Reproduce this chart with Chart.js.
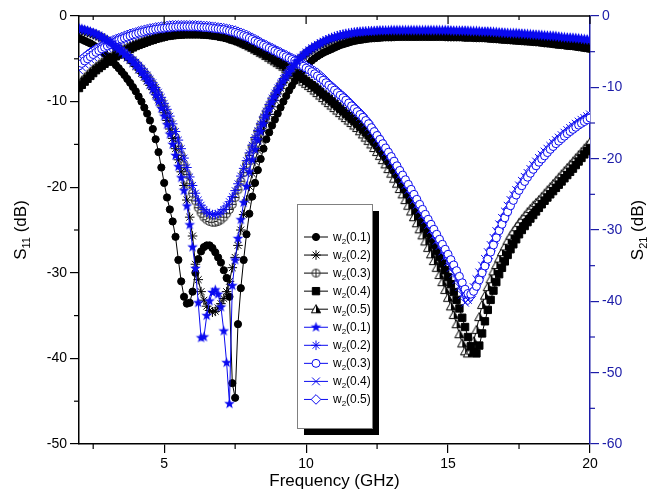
<!DOCTYPE html>
<html><head><meta charset="utf-8">
<script src="https://cdn.jsdelivr.net/npm/chart.js@4/dist/chart.umd.min.js"></script>
<style>html,body{margin:0;padding:0;background:#fff;overflow:hidden}canvas{display:block}</style>
</head><body>
<canvas id="c" width="651" height="496"></canvas>
<script>
// ---------- DATA ----------
// frequency (GHz), 2.0 ... 20.0 in 0.1 GHz steps (one row of 10 per GHz)
const freq = [
 2.0,2.1,2.2,2.3,2.4,2.5,2.6,2.7,2.8,2.9,
 3.0,3.1,3.2,3.3,3.4,3.5,3.6,3.7,3.8,3.9,
 4.0,4.1,4.2,4.3,4.4,4.5,4.6,4.7,4.8,4.9,
 5.0,5.1,5.2,5.3,5.4,5.5,5.6,5.7,5.8,5.9,
 6.0,6.1,6.2,6.3,6.4,6.5,6.6,6.7,6.8,6.9,
 7.0,7.1,7.2,7.3,7.4,7.5,7.6,7.7,7.8,7.9,
 8.0,8.1,8.2,8.3,8.4,8.5,8.6,8.7,8.8,8.9,
 9.0,9.1,9.2,9.3,9.4,9.5,9.6,9.7,9.8,9.9,
 10.0,10.1,10.2,10.3,10.4,10.5,10.6,10.7,10.8,10.9,
 11.0,11.1,11.2,11.3,11.4,11.5,11.6,11.7,11.8,11.9,
 12.0,12.1,12.2,12.3,12.4,12.5,12.6,12.7,12.8,12.9,
 13.0,13.1,13.2,13.3,13.4,13.5,13.6,13.7,13.8,13.9,
 14.0,14.1,14.2,14.3,14.4,14.5,14.6,14.7,14.8,14.9,
 15.0,15.1,15.2,15.3,15.4,15.5,15.6,15.7,15.8,15.9,
 16.0,16.1,16.2,16.3,16.4,16.5,16.6,16.7,16.8,16.9,
 17.0,17.1,17.2,17.3,17.4,17.5,17.6,17.7,17.8,17.9,
 18.0,18.1,18.2,18.3,18.4,18.5,18.6,18.7,18.8,18.9,
 19.0,19.1,19.2,19.3,19.4,19.5,19.6,19.7,19.8,19.9,
 20.0];

// S11 (left axis, dB)
const s11Black01 = [
 -2.6,-2.75,-2.9,-3.05,-3.2,-3.4,-3.6,-3.85,-4.1,-4.4,
 -4.7,-5.05,-5.4,-5.75,-6.1,-6.5,-6.9,-7.35,-7.8,-8.3,
 -8.8,-9.4,-10.0,-10.7,-11.4,-12.2,-13.2,-14.4,-15.9,-17.7,
 -19.5,-21.2,-22.6,-24.0,-25.8,-28.5,-31.0,-32.8,-33.6,-33.5,
 -32.2,-30.0,-28.4,-27.5,-27.0,-26.8,-26.8,-27.1,-27.6,-28.2,
 -28.8,-29.7,-30.6,-32.8,-42.9,-44.6,-36.0,-31.8,-28.5,-25.5,
 -23.1,-21.1,-19.5,-18.0,-16.7,-15.5,-14.4,-13.6,-12.8,-12.1,
 -11.4,-10.7,-10.0,-9.35,-8.7,-8.15,-7.6,-7.15,-6.7,-6.3,
 -5.9,-5.55,-5.2,-4.95,-4.7,-4.5,-4.3,-4.15,-4.0,-3.85,
 -3.7,-3.55,-3.4,-3.3,-3.2,-3.1,-3.0,-2.92,-2.85,-2.8,
 -2.75,-2.7,-2.65,-2.62,-2.6,-2.58,-2.55,-2.52,-2.5,-2.5,
 -2.5,-2.48,-2.45,-2.45,-2.45,-2.45,-2.45,-2.45,-2.45,-2.45,
 -2.45,-2.45,-2.45,-2.45,-2.45,-2.45,-2.45,-2.45,-2.45,-2.48,
 -2.5,-2.5,-2.5,-2.5,-2.5,-2.52,-2.55,-2.55,-2.55,-2.58,
 -2.6,-2.6,-2.6,-2.62,-2.65,-2.68,-2.7,-2.72,-2.75,-2.78,
 -2.8,-2.82,-2.85,-2.88,-2.9,-2.92,-2.95,-2.98,-3.0,-3.02,
 -3.05,-3.08,-3.1,-3.15,-3.2,-3.22,-3.25,-3.3,-3.35,-3.38,
 -3.4,-3.45,-3.5,-3.52,-3.55,-3.6,-3.65,-3.7,-3.75,-3.8,
 -3.85];
const s11Black02 = [
 -1.7,-1.78,-1.85,-1.95,-2.05,-2.18,-2.3,-2.45,-2.6,-2.8,
 -3.0,-3.25,-3.5,-3.75,-4.0,-4.3,-4.6,-4.9,-5.2,-5.55,
 -5.9,-6.3,-6.7,-7.15,-7.6,-8.1,-8.6,-9.2,-9.8,-10.5,
 -11.3,-12.2,-13.2,-14.3,-15.5,-16.8,-18.2,-19.8,-21.5,-23.5,
 -25.7,-29.0,-30.8,-32.2,-33.2,-33.9,-34.4,-34.6,-34.5,-34.1,
 -33.6,-33.0,-32.2,-31.0,-29.4,-28.2,-26.8,-25.0,-23.2,-21.5,
 -19.9,-18.4,-17.0,-15.7,-14.5,-13.4,-12.4,-11.5,-10.6,-9.85,
 -9.1,-8.45,-7.8,-7.25,-6.7,-6.25,-5.8,-5.4,-5.0,-4.7,
 -4.4,-4.15,-3.9,-3.7,-3.5,-3.35,-3.2,-3.05,-2.9,-2.8,
 -2.7,-2.6,-2.5,-2.45,-2.4,-2.35,-2.3,-2.25,-2.2,-2.18,
 -2.15,-2.12,-2.1,-2.1,-2.1,-2.08,-2.05,-2.05,-2.05,-2.05,
 -2.05,-2.05,-2.05,-2.05,-2.05,-2.05,-2.05,-2.05,-2.05,-2.05,
 -2.05,-2.05,-2.05,-2.05,-2.05,-2.05,-2.05,-2.05,-2.05,-2.08,
 -2.1,-2.1,-2.1,-2.1,-2.1,-2.12,-2.15,-2.15,-2.15,-2.18,
 -2.2,-2.2,-2.2,-2.22,-2.25,-2.28,-2.3,-2.32,-2.35,-2.35,
 -2.35,-2.38,-2.4,-2.42,-2.45,-2.48,-2.5,-2.52,-2.55,-2.58,
 -2.6,-2.62,-2.65,-2.68,-2.7,-2.72,-2.75,-2.8,-2.85,-2.88,
 -2.9,-2.92,-2.95,-3.0,-3.05,-3.1,-3.15,-3.2,-3.25,-3.3,
 -3.35];
const s11Black03 = [
 -1.6,-1.68,-1.75,-1.85,-1.95,-2.08,-2.2,-2.35,-2.5,-2.7,
 -2.9,-3.1,-3.3,-3.55,-3.8,-4.05,-4.3,-4.6,-4.9,-5.2,
 -5.5,-5.85,-6.2,-6.6,-7.0,-7.5,-8.0,-8.6,-9.2,-9.9,
 -10.6,-11.4,-12.3,-13.2,-14.2,-15.2,-16.3,-17.4,-18.5,-19.6,
 -20.7,-21.6,-22.4,-23.0,-23.5,-23.8,-24.0,-24.1,-24.1,-24.0,
 -23.8,-23.5,-23.1,-22.6,-22.0,-21.2,-20.3,-19.3,-18.3,-17.3,
 -16.3,-15.3,-14.4,-13.5,-12.7,-11.9,-11.2,-10.5,-9.8,-9.2,
 -8.6,-8.05,-7.5,-7.0,-6.5,-6.1,-5.7,-5.35,-5.0,-4.7,
 -4.4,-4.15,-3.9,-3.7,-3.5,-3.35,-3.2,-3.05,-2.9,-2.8,
 -2.7,-2.6,-2.5,-2.42,-2.35,-2.3,-2.25,-2.2,-2.15,-2.12,
 -2.1,-2.08,-2.05,-2.02,-2.0,-2.0,-2.0,-2.0,-2.0,-1.98,
 -1.95,-1.95,-1.95,-1.95,-1.95,-1.95,-1.95,-1.95,-1.95,-1.95,
 -1.95,-1.95,-1.95,-1.95,-1.95,-1.95,-1.95,-1.95,-1.95,-1.98,
 -2.0,-2.0,-2.0,-2.0,-2.0,-2.02,-2.05,-2.05,-2.05,-2.08,
 -2.1,-2.1,-2.1,-2.12,-2.15,-2.18,-2.2,-2.22,-2.25,-2.25,
 -2.25,-2.28,-2.3,-2.32,-2.35,-2.38,-2.4,-2.42,-2.45,-2.48,
 -2.5,-2.52,-2.55,-2.58,-2.6,-2.62,-2.65,-2.7,-2.75,-2.78,
 -2.8,-2.82,-2.85,-2.9,-2.95,-3.0,-3.05,-3.1,-3.15,-3.2,
 -3.25];
const s11Blue01 = [
 -1.4,-1.5,-1.6,-1.7,-1.8,-1.95,-2.1,-2.3,-2.5,-2.7,
 -2.9,-3.15,-3.4,-3.65,-3.9,-4.2,-4.5,-4.8,-5.1,-5.45,
 -5.8,-6.2,-6.6,-7.05,-7.5,-8.0,-8.6,-9.3,-10.0,-10.8,
 -11.7,-12.7,-13.8,-15.0,-16.3,-17.6,-18.9,-20.4,-22.2,-24.4,
 -27.0,-29.5,-33.5,-37.6,-37.5,-35.0,-33.3,-32.3,-32.0,-32.5,
 -34.0,-36.8,-40.5,-45.3,-31.5,-28.5,-26.0,-23.8,-21.8,-19.9,
 -18.2,-16.8,-15.6,-14.5,-13.5,-12.6,-11.7,-10.9,-10.1,-9.45,
 -8.8,-8.2,-7.6,-7.1,-6.6,-6.15,-5.7,-5.3,-4.9,-4.6,
 -4.3,-4.05,-3.8,-3.6,-3.4,-3.2,-3.0,-2.85,-2.7,-2.6,
 -2.5,-2.4,-2.3,-2.22,-2.15,-2.08,-2.0,-1.95,-1.9,-1.88,
 -1.85,-1.82,-1.8,-1.78,-1.75,-1.72,-1.7,-1.7,-1.7,-1.68,
 -1.65,-1.65,-1.65,-1.65,-1.65,-1.65,-1.65,-1.65,-1.65,-1.65,
 -1.65,-1.65,-1.65,-1.65,-1.65,-1.65,-1.65,-1.65,-1.65,-1.65,
 -1.65,-1.68,-1.7,-1.7,-1.7,-1.7,-1.7,-1.72,-1.75,-1.75,
 -1.75,-1.78,-1.8,-1.8,-1.8,-1.82,-1.85,-1.88,-1.9,-1.92,
 -1.95,-1.98,-2.0,-2.0,-2.0,-2.02,-2.05,-2.08,-2.1,-2.12,
 -2.15,-2.18,-2.2,-2.22,-2.25,-2.28,-2.3,-2.32,-2.35,-2.4,
 -2.45,-2.48,-2.5,-2.52,-2.55,-2.58,-2.6,-2.65,-2.7,-2.72,
 -2.75];
const s11Blue02 = [
 -1.5,-1.58,-1.65,-1.75,-1.85,-1.98,-2.1,-2.25,-2.4,-2.6,
 -2.8,-3.0,-3.2,-3.45,-3.7,-3.95,-4.2,-4.5,-4.8,-5.1,
 -5.4,-5.75,-6.1,-6.5,-6.9,-7.35,-7.8,-8.35,-8.9,-9.5,
 -10.2,-10.9,-11.7,-12.6,-13.5,-14.5,-15.5,-16.6,-17.7,-18.8,
 -19.8,-20.7,-21.5,-22.1,-22.6,-22.9,-23.1,-23.2,-23.2,-23.1,
 -22.9,-22.6,-22.2,-21.7,-21.1,-20.4,-19.6,-18.7,-17.8,-16.9,
 -16.0,-15.1,-14.2,-13.4,-12.6,-11.8,-11.1,-10.35,-9.6,-9.0,
 -8.4,-7.85,-7.3,-6.8,-6.3,-5.9,-5.5,-5.15,-4.8,-4.5,
 -4.2,-3.95,-3.7,-3.5,-3.3,-3.12,-2.95,-2.8,-2.65,-2.52,
 -2.4,-2.3,-2.2,-2.12,-2.05,-2.0,-1.95,-1.9,-1.85,-1.82,
 -1.8,-1.78,-1.75,-1.75,-1.75,-1.72,-1.7,-1.7,-1.7,-1.7,
 -1.7,-1.7,-1.7,-1.7,-1.7,-1.7,-1.7,-1.7,-1.7,-1.7,
 -1.7,-1.7,-1.7,-1.7,-1.7,-1.7,-1.7,-1.7,-1.7,-1.7,
 -1.7,-1.72,-1.75,-1.75,-1.75,-1.75,-1.75,-1.78,-1.8,-1.8,
 -1.8,-1.82,-1.85,-1.85,-1.85,-1.88,-1.9,-1.92,-1.95,-1.98,
 -2.0,-2.02,-2.05,-2.05,-2.05,-2.08,-2.1,-2.12,-2.15,-2.18,
 -2.2,-2.22,-2.25,-2.28,-2.3,-2.32,-2.35,-2.38,-2.4,-2.45,
 -2.5,-2.52,-2.55,-2.58,-2.6,-2.62,-2.65,-2.7,-2.75,-2.78,
 -2.8];

// S21 (right axis, dB)
const s21Black04 = [
 -10.1,-9.65,-9.2,-8.8,-8.4,-8.0,-7.6,-7.3,-7.0,-6.7,
 -6.4,-6.15,-5.9,-5.65,-5.4,-5.2,-5.0,-4.8,-4.6,-4.4,
 -4.2,-4.05,-3.9,-3.75,-3.6,-3.45,-3.35,-3.2,-3.1,-3.0,
 -2.9,-2.8,-2.75,-2.7,-2.65,-2.6,-2.6,-2.55,-2.55,-2.55,
 -2.55,-2.55,-2.55,-2.55,-2.6,-2.6,-2.65,-2.7,-2.75,-2.8,
 -2.9,-2.95,-3.05,-3.15,-3.3,-3.4,-3.55,-3.7,-3.85,-4.0,
 -4.2,-4.4,-4.6,-4.8,-5.0,-5.2,-5.45,-5.65,-5.9,-6.15,
 -6.4,-6.65,-6.9,-7.15,-7.4,-7.7,-8.0,-8.25,-8.5,-8.8,
 -9.1,-9.4,-9.7,-10.0,-10.3,-10.65,-11.0,-11.3,-11.6,-11.95,
 -12.3,-12.65,-13.0,-13.35,-13.7,-14.05,-14.4,-14.75,-15.1,-15.5,
 -15.9,-16.3,-16.7,-17.15,-17.6,-18.1,-18.6,-19.15,-19.7,-20.3,
 -20.9,-21.55,-22.2,-22.9,-23.6,-24.3,-25.0,-25.75,-26.5,-27.25,
 -28.0,-28.8,-29.6,-30.4,-31.2,-32.05,-32.9,-33.8,-34.7,-35.65,
 -36.6,-37.6,-38.7,-39.8,-41.0,-42.3,-43.6,-45.0,-46.3,-47.1,
 -47.3,-46.2,-44.5,-42.8,-41.2,-39.8,-38.5,-37.3,-36.2,-35.3,
 -34.4,-33.5,-32.7,-32.0,-31.3,-30.6,-30.0,-29.45,-28.9,-28.4,
 -27.9,-27.4,-26.9,-26.4,-25.9,-25.45,-25.0,-24.55,-24.1,-23.65,
 -23.2,-22.75,-22.3,-21.85,-21.4,-20.9,-20.4,-19.9,-19.4,-18.95,
 -18.5];
const s21Black05 = [
 -9.5,-9.05,-8.6,-8.2,-7.8,-7.45,-7.1,-6.8,-6.5,-6.25,
 -6.0,-5.75,-5.5,-5.25,-5.0,-4.8,-4.6,-4.4,-4.2,-4.05,
 -3.9,-3.75,-3.6,-3.45,-3.3,-3.2,-3.1,-3.0,-2.9,-2.8,
 -2.7,-2.65,-2.6,-2.55,-2.5,-2.45,-2.45,-2.4,-2.4,-2.4,
 -2.4,-2.4,-2.4,-2.4,-2.45,-2.45,-2.5,-2.55,-2.6,-2.65,
 -2.75,-2.85,-2.95,-3.05,-3.2,-3.35,-3.5,-3.65,-3.85,-4.05,
 -4.25,-4.45,-4.7,-4.9,-5.15,-5.35,-5.6,-5.85,-6.1,-6.35,
 -6.6,-6.85,-7.1,-7.4,-7.7,-8.0,-8.3,-8.6,-8.9,-9.2,
 -9.5,-9.8,-10.1,-10.45,-10.8,-11.15,-11.5,-11.85,-12.2,-12.55,
 -12.9,-13.25,-13.6,-13.95,-14.3,-14.65,-15.0,-15.35,-15.7,-16.15,
 -16.6,-17.05,-17.5,-18.0,-18.5,-19.05,-19.6,-20.2,-20.8,-21.45,
 -22.1,-22.8,-23.5,-24.25,-25.0,-25.8,-26.6,-27.4,-28.2,-29.05,
 -29.9,-30.75,-31.6,-32.5,-33.4,-34.35,-35.3,-36.3,-37.3,-38.4,
 -39.5,-40.7,-41.9,-43.2,-44.6,-45.9,-47.0,-47.3,-46.9,-45.6,
 -44.0,-42.2,-40.5,-39.2,-38.0,-36.9,-35.8,-34.9,-34.0,-33.1,
 -32.3,-31.5,-30.8,-30.2,-29.6,-29.0,-28.5,-28.0,-27.5,-27.05,
 -26.6,-26.2,-25.8,-25.35,-24.9,-24.45,-24.0,-23.55,-23.1,-22.65,
 -22.2,-21.75,-21.3,-20.85,-20.4,-19.95,-19.5,-19.05,-18.6,-18.15,
 -17.7];
const s21Blue03 = [
 -7.0,-6.65,-6.3,-6.0,-5.7,-5.4,-5.1,-4.85,-4.6,-4.4,
 -4.2,-4.0,-3.8,-3.6,-3.4,-3.25,-3.1,-2.95,-2.8,-2.65,
 -2.55,-2.4,-2.3,-2.2,-2.1,-2.0,-1.95,-1.85,-1.8,-1.75,
 -1.7,-1.65,-1.6,-1.55,-1.55,-1.5,-1.5,-1.5,-1.5,-1.5,
 -1.5,-1.5,-1.55,-1.55,-1.6,-1.6,-1.65,-1.7,-1.75,-1.8,
 -1.85,-1.9,-2.0,-2.1,-2.2,-2.3,-2.45,-2.6,-2.75,-2.9,
 -3.1,-3.3,-3.5,-3.7,-3.9,-4.1,-4.3,-4.5,-4.7,-4.9,
 -5.1,-5.3,-5.5,-5.7,-5.9,-6.1,-6.3,-6.55,-6.8,-7.05,
 -7.3,-7.55,-7.8,-8.1,-8.4,-8.7,-9.0,-9.35,-9.7,-10.05,
 -10.4,-10.75,-11.1,-11.45,-11.8,-12.2,-12.6,-13.0,-13.4,-13.8,
 -14.2,-14.65,-15.1,-15.65,-16.2,-16.75,-17.3,-17.9,-18.5,-19.1,
 -19.7,-20.35,-21.0,-21.65,-22.3,-22.95,-23.6,-24.3,-25.0,-25.7,
 -26.4,-27.1,-27.8,-28.5,-29.2,-29.9,-30.6,-31.3,-32.0,-32.7,
 -33.4,-34.15,-34.9,-35.7,-36.5,-37.4,-38.3,-38.9,-39.0,-38.6,
 -37.9,-37.0,-36.0,-35.05,-34.1,-33.1,-32.1,-31.1,-30.1,-29.2,
 -28.3,-27.45,-26.6,-25.85,-25.1,-24.45,-23.8,-23.2,-22.6,-22.05,
 -21.5,-21.0,-20.5,-20.05,-19.6,-19.15,-18.7,-18.3,-17.9,-17.55,
 -17.2,-16.85,-16.5,-16.2,-15.9,-15.6,-15.3,-15.05,-14.8,-14.55,
 -14.3];
const s21Blue04 = [
 -7.6,-7.2,-6.8,-6.45,-6.1,-5.8,-5.5,-5.25,-5.0,-4.75,
 -4.5,-4.3,-4.1,-3.9,-3.7,-3.5,-3.3,-3.15,-3.0,-2.85,
 -2.7,-2.55,-2.45,-2.35,-2.25,-2.15,-2.05,-1.95,-1.9,-1.85,
 -1.8,-1.75,-1.7,-1.65,-1.65,-1.6,-1.6,-1.6,-1.6,-1.6,
 -1.6,-1.6,-1.6,-1.6,-1.65,-1.65,-1.7,-1.75,-1.8,-1.85,
 -1.9,-1.95,-2.05,-2.15,-2.25,-2.35,-2.5,-2.65,-2.8,-2.95,
 -3.15,-3.35,-3.55,-3.75,-3.95,-4.15,-4.35,-4.55,-4.75,-4.95,
 -5.15,-5.35,-5.55,-5.75,-5.95,-6.15,-6.4,-6.65,-6.9,-7.15,
 -7.4,-7.65,-7.9,-8.2,-8.5,-8.85,-9.2,-9.55,-9.9,-10.25,
 -10.6,-10.95,-11.3,-11.7,-12.1,-12.5,-12.9,-13.3,-13.7,-14.15,
 -14.6,-15.1,-15.6,-16.15,-16.7,-17.3,-17.9,-18.5,-19.1,-19.75,
 -20.4,-21.05,-21.7,-22.35,-23.0,-23.7,-24.4,-25.1,-25.8,-26.5,
 -27.2,-27.9,-28.6,-29.3,-30.0,-30.75,-31.5,-32.25,-33.0,-33.75,
 -34.5,-35.3,-36.1,-37.0,-38.0,-39.1,-40.2,-39.8,-39.0,-38.0,
 -36.9,-35.95,-35.0,-34.05,-33.1,-32.1,-31.1,-30.15,-29.2,-28.3,
 -27.4,-26.6,-25.8,-25.1,-24.4,-23.75,-23.1,-22.55,-22.0,-21.45,
 -20.9,-20.4,-19.9,-19.45,-19.0,-18.6,-18.2,-17.8,-17.4,-17.05,
 -16.7,-16.35,-16.0,-15.7,-15.4,-15.1,-14.8,-14.55,-14.3,-14.05,
 -13.8];
const s21Blue05 = [
 -6.4,-6.05,-5.7,-5.4,-5.1,-4.85,-4.6,-4.4,-4.2,-4.0,
 -3.8,-3.6,-3.4,-3.25,-3.1,-2.95,-2.8,-2.65,-2.5,-2.4,
 -2.3,-2.15,-2.05,-1.95,-1.85,-1.75,-1.7,-1.6,-1.55,-1.5,
 -1.45,-1.4,-1.35,-1.3,-1.3,-1.3,-1.3,-1.3,-1.3,-1.3,
 -1.3,-1.3,-1.35,-1.35,-1.4,-1.4,-1.45,-1.5,-1.55,-1.6,
 -1.65,-1.7,-1.8,-1.85,-1.95,-2.05,-2.2,-2.35,-2.5,-2.65,
 -2.85,-3.05,-3.25,-3.45,-3.7,-3.9,-4.1,-4.3,-4.5,-4.7,
 -4.9,-5.1,-5.3,-5.5,-5.7,-5.9,-6.1,-6.3,-6.5,-6.75,
 -7.0,-7.25,-7.5,-7.75,-8.0,-8.35,-8.7,-9.1,-9.5,-9.85,
 -10.2,-10.55,-10.9,-11.25,-11.6,-12.0,-12.4,-12.8,-13.2,-13.6,
 -14.0,-14.5,-15.0,-15.6,-16.2,-16.8,-17.4,-18.0,-18.6,-19.25,
 -19.9,-20.55,-21.2,-21.85,-22.5,-23.2,-23.9,-24.6,-25.3,-26.0,
 -26.7,-27.4,-28.1,-28.8,-29.5,-30.25,-31.0,-31.7,-32.4,-33.1,
 -33.8,-34.55,-35.3,-36.1,-37.0,-38.1,-39.2,-39.8,-39.3,-38.5,
 -37.6,-36.7,-35.8,-34.9,-34.0,-32.9,-31.9,-30.9,-29.9,-28.9,
 -28.0,-27.1,-26.3,-25.5,-24.8,-24.1,-23.5,-22.9,-22.3,-21.7,
 -21.2,-20.7,-20.2,-19.7,-19.3,-18.85,-18.4,-18.0,-17.6,-17.25,
 -16.9,-16.55,-16.2,-15.9,-15.6,-15.3,-15.0,-14.75,-14.5,-14.25,
 -14.0];

const legendValues = ['0.1','0.2','0.3','0.4','0.5','0.1','0.2','0.3','0.4','0.5'];
const xMajorTicks = [5, 10, 15, 20];
const xMinorTicks = [2.5, 7.5, 12.5, 17.5];
const yMajorTicks = [-50, -40, -30, -20, -10, 0];
const yMinorTicks = [-45, -35, -25, -15, -5];
const y2MajorTicks = [-60, -50, -40, -30, -20, -10, 0];
const y2MinorTicks = [-55, -45, -35, -25, -15, -5];

// ---------- STYLE ----------
const BLACK = '#000000', BLUE = '#0a0af0', AXIS_BLUE = '#1c1ca8';
const FONT = "'Liberation Sans', Arial, sans-serif";

function makeMarker(size, draw) {
  const c = document.createElement('canvas');
  c.width = size; c.height = size;
  const g = c.getContext('2d');
  draw(g, size / 2);
  return c;
}
const starImg = makeMarker(13, (g, c) => {
  g.beginPath();
  for (let k = 0; k < 10; k++) {
    const r = k % 2 === 0 ? 5.6 : 2.3;
    const a = -Math.PI / 2 + k * Math.PI / 5;
    g.lineTo(c + r * Math.cos(a), c + r * Math.sin(a));
  }
  g.closePath(); g.fillStyle = BLUE; g.fill();
});
const circlePlusImg = makeMarker(11, (g, c) => {
  g.strokeStyle = '#222'; g.lineWidth = 1; g.fillStyle = '#fff';
  g.beginPath(); g.arc(c, c, 4, 0, Math.PI * 2); g.fill(); g.stroke();
  g.beginPath(); g.moveTo(c - 4, c); g.lineTo(c + 4, c); g.moveTo(c, c - 4); g.lineTo(c, c + 4); g.stroke();
});
const halfTriImg = makeMarker(12, (g, c) => {
  g.lineWidth = 1; g.strokeStyle = '#000';
  g.beginPath(); g.moveTo(c, c - 4.5); g.lineTo(c + 4.6, c + 3.6); g.lineTo(c - 4.6, c + 3.6); g.closePath();
  g.fillStyle = '#fff'; g.fill();
  g.beginPath(); g.moveTo(c, c - 4.5); g.lineTo(c + 4.6, c + 3.6); g.lineTo(c, c + 3.6); g.closePath();
  g.fillStyle = '#000'; g.fill();
  g.beginPath(); g.moveTo(c, c - 4.5); g.lineTo(c + 4.6, c + 3.6); g.lineTo(c - 4.6, c + 3.6); g.closePath(); g.stroke();
});

const seriesStyles = [
  {axis: 'y',  color: BLACK, style: 'circle', r: 3.6, fill: BLACK},
  {axis: 'y',  color: BLACK, style: 'star', r: 4.8, fill: BLACK},
  {axis: 'y',  color: BLACK, style: circlePlusImg, r: 4.5, fill: '#fff'},
  {axis: 'y2', color: BLACK, style: 'rect', r: 5.2, fill: BLACK},
  {axis: 'y2', color: BLACK, style: halfTriImg, r: 4.5, fill: '#fff'},
  {axis: 'y',  color: BLUE, style: starImg, r: 5, fill: BLUE},
  {axis: 'y',  color: BLUE, style: 'star', r: 4.8, fill: BLUE},
  {axis: 'y2', color: BLUE, style: 'circle', r: 4, fill: '#fff'},
  {axis: 'y2', color: BLUE, style: 'crossRot', r: 5.5, fill: BLUE},
  {axis: 'y2', color: BLUE, style: 'rectRot', r: 4.8, fill: '#fff'}
];
const seriesValues = [s11Black01, s11Black02, s11Black03, s21Black04, s21Black05,
                      s11Blue01, s11Blue02, s21Blue03, s21Blue04, s21Blue05];

const datasets = seriesValues.map((vals, i) => {
  const st = seriesStyles[i];
  return {
    label: 'w2(' + legendValues[i] + ')',
    data: freq.map((f, k) => ({x: f, y: vals[k]})),
    yAxisID: st.axis,
    borderColor: st.color,
    borderWidth: 1,
    backgroundColor: st.fill,
    pointStyle: st.style,
    pointRadius: st.r,
    pointBackgroundColor: st.fill,
    pointBorderColor: st.color,
    pointBorderWidth: 1,
    tension: 0,
    fill: false,
    clip: 0,
    order: i < 5 ? 2 : 1
  };
});

function hline(ctx, x1, y1, x2, y2) { ctx.beginPath(); ctx.moveTo(x1, y1); ctx.lineTo(x2, y2); ctx.stroke(); }
function partsWidth(ctx, parts) {
  let w = 0;
  for (const p of parts) { ctx.font = p.size + 'px ' + FONT; w += ctx.measureText(p.t).width; }
  return w;
}
function drawParts(ctx, parts, x, y) {
  for (const p of parts) {
    ctx.font = p.size + 'px ' + FONT;
    ctx.fillText(p.t, x, y + (p.dy || 0));
    x += ctx.measureText(p.t).width;
  }
}

const deco = {
  id: 'deco',
  afterDraw(chart) {
    const {ctx, chartArea: a, scales} = chart;
    const xs = scales.x, ys = scales.y, y2s = scales.y2;
    ctx.save();
    ctx.strokeStyle = '#000'; ctx.lineWidth = 1.5;
    hline(ctx, a.left, a.top, a.right, a.top);
    ctx.lineWidth = 1.2;
    for (const v of xMajorTicks) { const p = xs.getPixelForValue(v); hline(ctx, p, a.top, p, a.top + 8); }
    for (const v of xMinorTicks) {
      const p = xs.getPixelForValue(v);
      hline(ctx, p, a.bottom, p, a.bottom + 5);
      hline(ctx, p, a.top, p, a.top + 4);
    }
    for (const v of yMinorTicks) { const p = ys.getPixelForValue(v); hline(ctx, a.left - 5, p, a.left, p); }
    ctx.strokeStyle = AXIS_BLUE;
    for (const v of y2MinorTicks) { const p = y2s.getPixelForValue(v); hline(ctx, a.right, p, a.right + 5, p); }

    // axis titles
    ctx.fillStyle = '#000'; ctx.textBaseline = 'alphabetic'; ctx.textAlign = 'left';
    const xt = [{t: 'Frequency (GHz)', size: 17}];
    drawParts(ctx, xt, (a.left + a.right) / 2 - partsWidth(ctx, xt) / 2, 486);
    const yt = [{t: 'S', size: 17}, {t: '11', size: 11, dy: 4}, {t: ' (dB)', size: 17}];
    let w = partsWidth(ctx, yt);
    ctx.save(); ctx.translate(26, (a.top + a.bottom) / 2); ctx.rotate(-Math.PI / 2);
    drawParts(ctx, yt, -w / 2, 0); ctx.restore();
    const y2t = [{t: 'S', size: 17}, {t: '21', size: 11, dy: 4}, {t: ' (dB)', size: 17}];
    w = partsWidth(ctx, y2t);
    ctx.save(); ctx.translate(643, (a.top + a.bottom) / 2); ctx.rotate(-Math.PI / 2);
    drawParts(ctx, y2t, -w / 2, 0); ctx.restore();

    // legend
    const bx = 297, by = 204, bw = 75, bh = 224;
    ctx.fillStyle = '#000'; ctx.fillRect(bx + 7, by + 7, bw, bh);
    ctx.fillStyle = '#fff'; ctx.fillRect(bx, by, bw, bh);
    ctx.strokeStyle = '#808080'; ctx.lineWidth = 1; ctx.strokeRect(bx + 0.5, by + 0.5, bw, bh);
    for (let i = 0; i < datasets.length; i++) {
      const ds = datasets[i];
      const yy = 237 + i * 18.05;
      ctx.strokeStyle = ds.borderColor; ctx.lineWidth = 1;
      hline(ctx, 304, yy, 328, yy);
      ctx.fillStyle = ds.pointBackgroundColor; ctx.strokeStyle = ds.pointBorderColor; ctx.lineWidth = 1;
      Chart.helpers.drawPoint(ctx, {pointStyle: ds.pointStyle, radius: ds.pointRadius, rotation: 0, borderWidth: 1}, 316, yy);
      ctx.fillStyle = '#000';
      drawParts(ctx, [{t: 'w', size: 12}, {t: '2', size: 8, dy: 3}, {t: '(' + legendValues[i] + ')', size: 12}], 333, yy + 4);
    }
    ctx.restore();
  }
};

const tickFont = {size: 14, family: FONT};
new Chart(document.getElementById('c'), {
  type: 'line',
  data: {datasets},
  options: {
    responsive: false,
    animation: false,
    events: [],
    layout: {padding: {top: 16, left: 0, right: 0, bottom: 0}},
    plugins: {legend: {display: false}, tooltip: {enabled: false}, title: {display: false}},
    scales: {
      x: {
        type: 'linear', min: 2, max: 20,
        afterBuildTicks: s => { s.ticks = xMajorTicks.map(v => ({value: v})); },
        afterFit: s => { s.height = 52; },
        ticks: {font: tickFont, color: '#000', padding: 3, maxRotation: 0, autoSkip: false, callback: v => String(v)},
        grid: {drawOnChartArea: false, drawTicks: true, tickLength: 9, color: '#000', lineWidth: 1.2},
        border: {display: true, color: '#000', width: 1.5}
      },
      y: {
        type: 'linear', position: 'left', min: -50, max: 0,
        afterBuildTicks: s => { s.ticks = yMajorTicks.map(v => ({value: v})); },
        afterFit: s => { s.width = 79; },
        ticks: {font: tickFont, color: '#000', padding: 3, callback: v => String(v)},
        grid: {drawOnChartArea: false, drawTicks: true, tickLength: 9, color: '#000', lineWidth: 1.2},
        border: {display: true, color: '#000', width: 1.5}
      },
      y2: {
        type: 'linear', position: 'right', min: -60, max: 0,
        afterBuildTicks: s => { s.ticks = y2MajorTicks.map(v => ({value: v})); },
        afterFit: s => { s.width = 61; },
        ticks: {font: tickFont, color: AXIS_BLUE, padding: 3, callback: v => String(v)},
        grid: {drawOnChartArea: false, drawTicks: true, tickLength: 9, color: AXIS_BLUE, lineWidth: 1.2},
        border: {display: true, color: AXIS_BLUE, width: 1.5}
      }
    }
  },
  plugins: [deco]
});
</script>
</body></html>
